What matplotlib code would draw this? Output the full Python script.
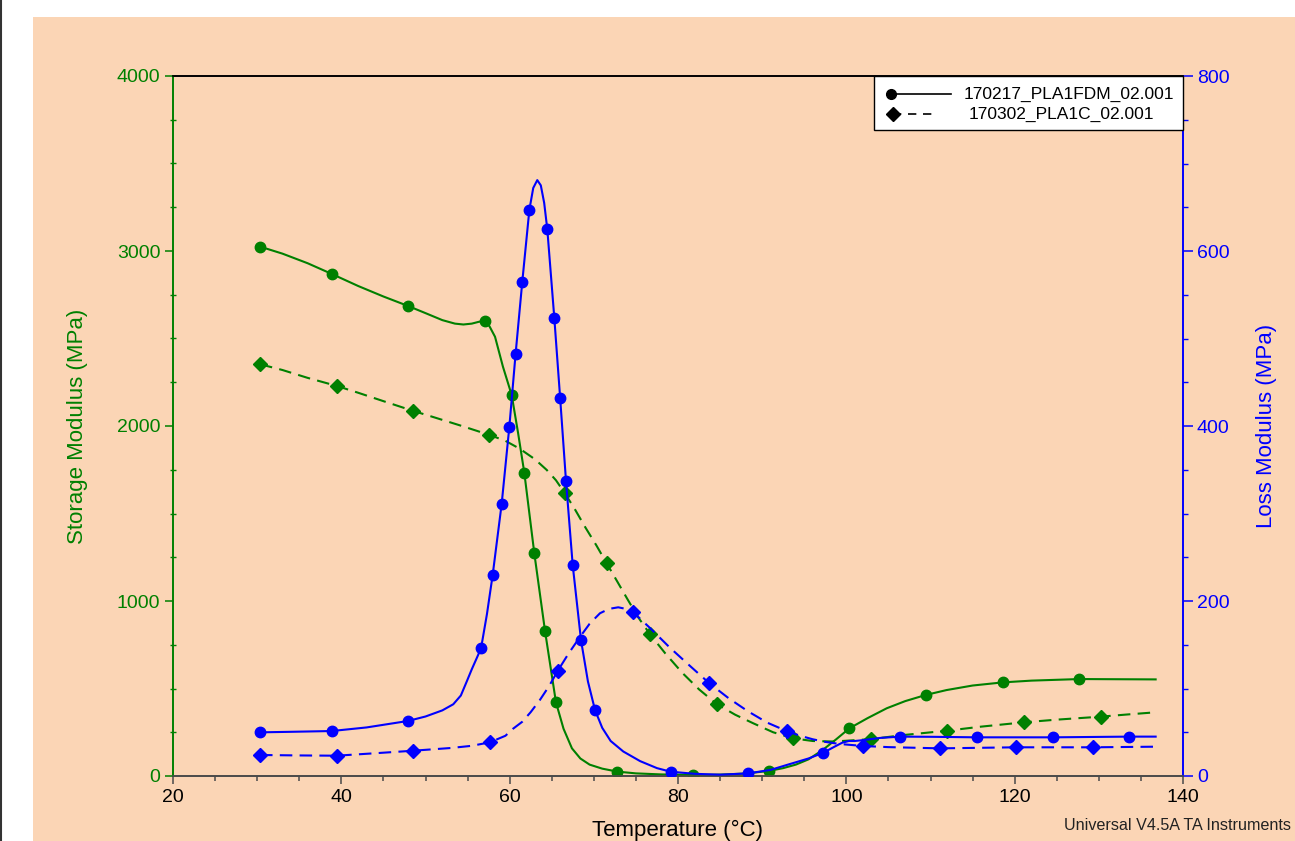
import matplotlib
matplotlib.use("Agg")
import matplotlib.pyplot as plt
from matplotlib.patches import Rectangle
from matplotlib.lines import Line2D
from matplotlib.ticker import MultipleLocator

plt.rcParams['font.family'] = ['Liberation Sans', 'DejaVu Sans']

# ---- Data ----
# Sample 1: 170217_PLA1FDM_02.001 (solid)
s1_T_storage = [30.34, 33.0, 36.0, 38.86, 42.0, 45.0, 47.92, 50.0, 52.0, 53.5, 54.5, 55.5,
                56.3, 57.07, 57.6, 58.26, 59.2, 60.24, 61.0, 61.74, 62.93, 64.2, 65.5, 66.4,
                67.4, 68.4, 69.5, 71.0, 72.8, 75.0, 78.0, 81.8, 85.0, 88.0, 90.8, 92.5,
                94.0, 95.5, 97.2, 98.8, 100.35, 102.5, 104.8, 107.0, 109.43, 111.9, 115.0,
                118.6, 122.0, 127.7, 132.0, 136.75]
s1_storage = [3025, 2985, 2930, 2869, 2800, 2740, 2686, 2645, 2605, 2585, 2580, 2585,
              2595, 2602, 2570, 2510, 2339, 2177, 1960, 1733, 1272, 829, 421, 270,
              158, 100, 65, 42, 25, 15, 9, 6, 8, 14, 29, 45,
              65, 95, 149, 210, 272, 330, 387, 428, 463, 491, 517,
              535, 545, 554, 553, 552]
s1_T_storage_mk = [30.34, 38.86, 47.92, 57.07, 60.24, 61.74, 62.93, 64.2, 65.5,
                   72.8, 81.8, 90.8, 100.35, 109.43, 118.6, 127.7]
s1_storage_mk = [3025, 2869, 2686, 2602, 2177, 1733, 1272, 829, 421,
                 25, 6, 29, 272, 463, 535, 554]

s1_T_loss = [30.34, 34.0, 38.86, 43.0, 47.92, 50.0, 52.0, 53.3, 54.2, 54.9, 55.5, 56.1,
             56.6, 57.3, 57.98, 59.05, 59.96, 60.7, 61.5, 62.34, 62.8, 63.28, 63.7, 64.1,
             64.47, 65.3, 66.0, 66.69, 67.49, 68.48, 69.3, 70.14, 71.0, 72.0, 73.5, 75.5,
             77.5, 79.13, 82.0, 85.0, 88.35, 91.0, 93.3, 95.5, 97.27, 98.5, 99.5, 100.3,
             101.0, 102.0, 104.0, 106.4, 110.0, 115.5, 124.6, 133.6, 136.75]
s1_loss = [49.9, 50.5, 51.4, 55.5, 62.9, 68.0, 75.0, 82.0, 92.0, 108.0, 122.0, 135.0,
           146.0, 185.0, 229.7, 311.0, 399.0, 482.0, 565.0, 647.0, 672.0, 681.0, 675.0, 655.0,
           625.0, 524.0, 431.7, 337.5, 241.0, 155.0, 108.0, 75.4, 55.0, 40.0, 28.0, 17.0,
           9.0, 4.9, 2.5, 1.5, 3.0, 7.0, 13.7, 20.0, 26.6, 33.0, 38.0, 40.0,
           40.0, 41.0, 43.5, 45.0, 44.8, 44.2, 44.2, 45.0, 45.0]
s1_T_loss_mk = [30.34, 38.86, 47.92, 56.6, 57.98, 59.05, 59.96, 60.7, 61.5, 62.34, 64.47,
                65.3, 66.0, 66.69, 67.49, 68.48, 70.14, 79.13, 88.35, 97.27, 106.4, 115.5,
                124.6, 133.6]
s1_loss_mk = [49.9, 51.4, 62.9, 146.0, 229.7, 311.0, 399.0, 482.0, 565.0, 647.0, 625.0,
              524.0, 431.7, 337.5, 241.0, 155.0, 75.4, 4.9, 3.0, 26.6, 45.0, 44.2,
              44.2, 45.0]

# Sample 2: 170302_PLA1C_02.001 (dashed)
s2_T_storage = [30.34, 33.0, 36.0, 39.45, 42.0, 45.0, 48.55, 51.0, 54.0, 57.6, 59.5, 61.2,
                63.0, 64.4, 65.5, 66.57, 67.8, 69.0, 70.3, 71.53, 72.8, 74.0, 75.3, 76.67,
                78.5, 80.5, 82.5, 84.6, 86.8, 88.95, 91.3, 93.7, 96.0, 98.5, 100.5, 102.9,
                107.0, 112.0, 116.0, 121.15, 125.0, 130.2, 133.5, 136.75]
s2_storage = [2353, 2320, 2275, 2229, 2190, 2142, 2086, 2050, 2005, 1949, 1915, 1870,
              1810, 1749, 1690, 1615, 1520, 1420, 1318, 1215, 1110, 1010, 905, 810,
              700, 590, 495, 411, 350, 301, 250, 215, 200, 197, 203, 211,
              235, 259, 282, 307, 322, 339, 352, 364]
s2_T_storage_mk = [30.34, 39.45, 48.55, 57.6, 66.57, 71.53, 76.67, 84.6, 93.7, 102.9,
                   112.0, 121.15, 130.2]
s2_storage_mk = [2353, 2229, 2086, 1949, 1615, 1215, 810, 411, 215, 211, 259, 307, 339]

s2_T_loss = [30.34, 35.0, 39.45, 44.0, 48.55, 53.0, 55.5, 57.66, 59.5, 60.4, 61.5, 62.5,
             63.6, 64.7, 65.7, 67.0, 68.36, 69.5, 70.73, 71.8, 72.9, 73.8, 74.7, 76.8,
             79.0, 81.4, 83.72, 86.0, 88.3, 90.6, 92.9, 94.5, 96.0, 97.5, 99.2, 102.0,
             105.0, 111.1, 120.2, 129.3, 136.75]
s2_loss = [24.0, 23.5, 23.2, 26.0, 28.9, 32.0, 34.5, 38.5, 46.0, 54.0, 62.0, 73.0,
           87.0, 103.0, 120.0, 140.0, 159.0, 174.0, 186.0, 191.0, 192.8, 191.0, 187.0, 168.0,
           147.0, 126.0, 106.0, 89.0, 74.0, 61.0, 51.4, 46.0, 42.0, 39.0, 36.6, 34.3,
           33.0, 31.6, 32.8, 32.8, 33.5]
s2_T_loss_mk = [30.34, 39.45, 48.55, 57.66, 65.7, 74.7, 83.72, 92.9, 102.0, 111.1, 120.2, 129.3]
s2_loss_mk = [24.0, 23.2, 28.9, 38.5, 120.0, 187.0, 106.0, 51.4, 34.3, 31.6, 32.8, 32.8]

legend_labels = ["170217_PLA1FDM_02.001", "170302_PLA1C_02.001"]

GREEN = "#008000"
BLUE = "#0000FF"
PEACH = "#FBD5B5"

fig = plt.figure(figsize=(12.95, 8.41), dpi=100)
fig.patch.set_facecolor("white")
# peach panel
fig.patches.append(Rectangle((33 / 1295, 0), 1.0, 1 - 17 / 841, transform=fig.transFigure,
                             facecolor=PEACH, edgecolor="none", zorder=-10))
fig.lines.append(Line2D([0.0008, 0.0008], [0, 1], transform=fig.transFigure,
                        color="#333333", lw=1.5, zorder=-10))

ax = fig.add_axes([173 / 1295, 1 - 776 / 841, 1010 / 1295, 700 / 841])
ax.set_facecolor("none")
ax2 = ax.twinx()
ax2.set_facecolor("none")

lw = 1.5
dash = (0, (6, 3.5))

ax.plot(s1_T_storage, s1_storage, color=GREEN, lw=lw, zorder=3)
ax.plot(s1_T_storage_mk, s1_storage_mk, ls="none", marker="o", ms=7.5, color=GREEN, zorder=4)
ax.plot(s2_T_storage, s2_storage, color=GREEN, lw=lw, ls=dash, zorder=3)
ax.plot(s2_T_storage_mk, s2_storage_mk, ls="none", marker="D", ms=7.5, color=GREEN, zorder=4)

ax2.plot(s1_T_loss, s1_loss, color=BLUE, lw=lw, zorder=3)
ax2.plot(s1_T_loss_mk, s1_loss_mk, ls="none", marker="o", ms=7.5, color=BLUE, zorder=4)
ax2.plot(s2_T_loss, s2_loss, color=BLUE, lw=lw, ls=dash, zorder=3)
ax2.plot(s2_T_loss_mk, s2_loss_mk, ls="none", marker="D", ms=7.5, color=BLUE, zorder=4)

ax.set_xlim(20, 140)
ax.set_ylim(0, 4000)
ax2.set_ylim(0, 800)

ax.xaxis.set_major_locator(MultipleLocator(20))
ax.xaxis.set_minor_locator(MultipleLocator(5))
ax.yaxis.set_major_locator(MultipleLocator(1000))
ax.yaxis.set_minor_locator(MultipleLocator(250))
ax2.yaxis.set_major_locator(MultipleLocator(200))
ax2.yaxis.set_minor_locator(MultipleLocator(50))

for a in (ax, ax2):
    a.spines["top"].set_color("black")
    a.spines["bottom"].set_color("#4a4a4a")
    a.spines["left"].set_color(GREEN)
    a.spines["right"].set_color(BLUE)
    for s in a.spines.values():
        s.set_linewidth(1.2)

ax.tick_params(axis="x", which="major", direction="out", length=6, width=1.1,
               color="#4a4a4a", labelsize=14, labelcolor="black", pad=3)
ax.tick_params(axis="x", which="minor", direction="out", length=3.5, width=1.1, color="#4a4a4a")
ax.tick_params(axis="y", which="major", direction="out", length=6, width=1.1,
               color=GREEN, labelsize=14, labelcolor=GREEN, pad=3)
ax.tick_params(axis="y", which="minor", direction="inout", length=4, width=1.0, color=GREEN)
ax2.tick_params(axis="y", which="major", direction="out", length=7, width=1.1,
                color=BLUE, labelsize=14, labelcolor=BLUE, pad=3)
ax2.tick_params(axis="y", which="minor", direction="out", length=3.5, width=1.0, color=BLUE)

ax.set_xlabel("Temperature (°C)", fontsize=16, color="black", labelpad=10)
ax.set_ylabel("Storage Modulus (MPa)", fontsize=16, color=GREEN, labelpad=21)
ax2.set_ylabel("Loss Modulus (MPa)", fontsize=16, color=BLUE, labelpad=19)

# legend box (top-right, flush with axes corner)
lx0 = (874 - 173) / 1010
ly0 = (776 - 130) / 700
ax2.add_patch(Rectangle((lx0, ly0), 1 - lx0, 1 - ly0, transform=ax2.transAxes,
                        facecolor="white", edgecolor="black", lw=1.0, zorder=10, clip_on=False))

def ax_x(px):
    return (px - 173) / 1010

def ax_y(py):
    return (776 - py) / 700

ax2.plot([ax_x(891), ax_x(951)], [ax_y(94), ax_y(94)], transform=ax2.transAxes,
         color="black", lw=1.2, zorder=11, clip_on=False)
ax2.plot([ax_x(891)], [ax_y(94)], transform=ax2.transAxes, marker="o", ms=7,
         color="black", zorder=12, clip_on=False)
ax2.plot([ax_x(893), ax_x(937)], [ax_y(114), ax_y(114)], transform=ax2.transAxes,
         color="black", lw=1.2, ls=(0, (5, 4)), zorder=11, clip_on=False)
ax2.plot([ax_x(893)], [ax_y(114)], transform=ax2.transAxes, marker="D", ms=7,
         color="black", zorder=12, clip_on=False)
ax2.text(ax_x(964), ax_y(94), legend_labels[0], transform=ax2.transAxes, fontsize=12.5,
         va="center", ha="left", color="black", zorder=12)
ax2.text(ax_x(969), ax_y(114), legend_labels[1], transform=ax2.transAxes, fontsize=12.5,
         va="center", ha="left", color="black", zorder=12)

fig.text(1291 / 1295, 1 - 826 / 841, "Universal V4.5A TA Instruments", fontsize=11.6,
         ha="right", va="center", color="#222222")

fig.savefig("out.png", dpi=100, facecolor=fig.get_facecolor())
